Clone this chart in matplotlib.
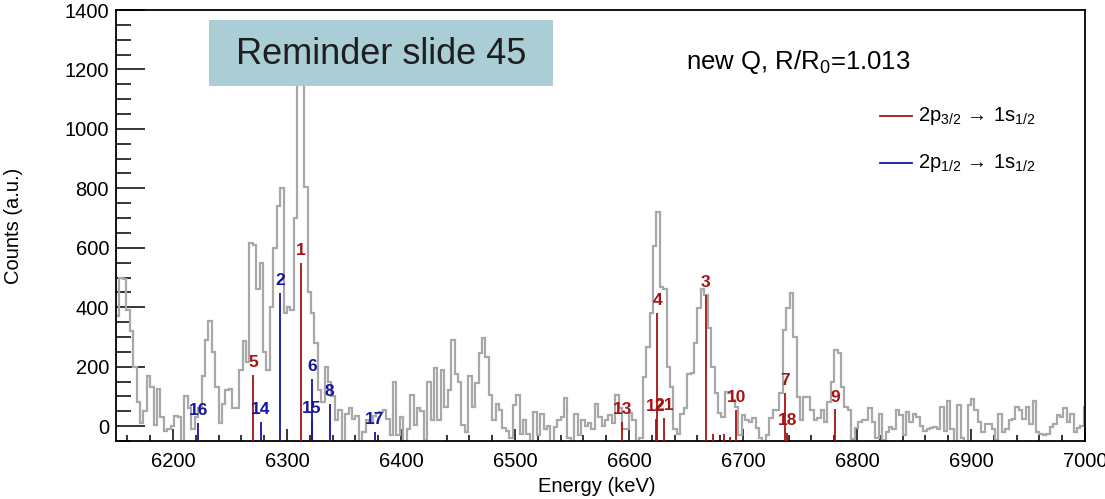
import numpy as np
import matplotlib
matplotlib.use('Agg')
import matplotlib.pyplot as plt
from matplotlib.patches import Rectangle
from matplotlib.lines import Line2D
from matplotlib.ticker import MultipleLocator

# ---------------- data ----------------
bin_start = 6150.0   # keV
bin_width = 3.0      # keV

counts_6150_6258 = [370, 500, 495, 390, 320, 200, 80, 10, 50, 170, 130, 5, 125, 30, -15, -10,
                    0, 35, 30, -60, 100, 60, -10, 30, 60, 170, 290, 355, 250, 130, 10, 75,
                    120, 125, 60, 60]
counts_6258_6351 = [190, 285, 215, 615, 608, 460, 550, 250, 190, 400, 600, 740, 800, 380, 400,
                    390, 700, 1200, 1180, 806, 450, 380, 280, 120, 80, 200, 150, 100, 20, 54, -60]
counts_6351_6576 = [40, 60, 25, 35, -60, -20, 20, 10, 35, 45, 48, 54, 25, -30, 150, -30, 30, -60,
                    -10, 105, 5, 60, 50, -45, 150, 20, 194, 20, 189, 65, 120, 290, 177, 150, 4,
                    -19, 170, 65, 144, 245, 295, 234, 105, 20, 76, 54, -5, -15, -40, 70, 105,
                    -25, 20, -25, -60, 48, -30, 42, -10, 0, -60, -2, 20, 32, 93, -40, -60, 42,
                    -30, 20, 0, 10, -10, 76, 30]
counts_6576_6786 = [0, 20, 37, 10, 104, 60, -10, -10, 45, 20, -60, -40, 166, 267, 380, 605, 721,
                    469, 460, 200, 130, -10, -25, 40, 60, 177, 180, 280, 396, 460, 441, 330, 200,
                    110, 43, 30, 115, 110, 87, 65, -30, 37, 20, 15, 26, -5, -40, -60, -30, 26, 54,
                    54, 110, 323, 396, 447, 301, 99, 20, 99, 99, 54, 20, 26, 54, 15, 82, 150, 256,
                    245]
counts_6786_7002 = [130, 65, 54, -43, -5, 14, 20, 20, 60, 14, -40, 42, -45, -20, -3, -10, 54, 37,
                    -30, 48, 14, 42, 30, 2, -15, -10, -5, -3, -8, 65, -15, 83, -10, -60, 71, -40,
                    -60, 71, 90, 54, 14, -20, 8, 8, -10, -45, 42, -20, -10, 20, 25, 65, 54, 25, 65,
                    8, 83, -20, -26, -30, -26, -3, 8, 37, 32, 62, 14, 42, -20, -5, 2, 65]

# 2p3/2 -> 1s1/2 transitions (red)
red_energy = [6312, 6667.5, 6624.8, 6270, 6737, 6780.7, 6694, 6623.5, 6594, 6739, 6630.7]
red_height = [550, 441, 381, 172, 113, 56, 54, 24, 15, -22, 27]
red_label = ['1', '3', '4', '5', '7', '9', '10', '12', '13', '18', '21']
red_minor_energy = [6674, 6683, 6689]
red_minor_height = [-27, -25, -35]

# 2p1/2 -> 1s1/2 transitions (blue)
blue_energy = [6294, 6322, 6337.4, 6277.2, 6321.5, 6222, 6377.2]
blue_height = [447, 160, 74, 15, 17, 9, -19]
blue_label = ['2', '6', '8', '14', '15', '16', '17']

x_range = (6150, 7000)
y_range = (-50, 1400)

# ---------------- style ----------------
plt.rcParams['font.family'] = ['Liberation Sans', 'DejaVu Sans']
plt.rcParams['mathtext.fontset'] = 'custom'
plt.rcParams['mathtext.rm'] = 'Liberation Sans'
plt.rcParams['mathtext.it'] = 'Liberation Sans:italic'
plt.rcParams['mathtext.bf'] = 'Liberation Sans:bold'

RED = '#a81212'
BLUE = '#1515a0'
GRAY = '#a8a8a8'

W, H = 1105, 499
fig = plt.figure(figsize=(W / 100, H / 100), dpi=100)
ax = fig.add_axes([116 / W, 58 / H, 969 / W, 431 / H])

counts = np.array(counts_6150_6258 + counts_6258_6351 + counts_6351_6576 +
                  counts_6576_6786 + counts_6786_7002, dtype=float)
edges = bin_start + bin_width * np.arange(len(counts) + 1)
ax.stairs(counts, edges, baseline=None, color=GRAY, lw=1.6, zorder=2)

ymin_line = y_range[0] - 10
ax.vlines(red_minor_energy, ymin_line, red_minor_height, colors=RED, lw=1.3, zorder=3)
ax.vlines(red_energy, ymin_line, red_height, colors=RED, lw=1.3, zorder=3)
ax.vlines(blue_energy, ymin_line, blue_height, colors=BLUE, lw=1.3, zorder=3)
for e, h, lab in zip(red_energy, red_height, red_label):
    ax.text(e, h + 42, lab, color=RED, ha='center', va='center', fontsize=12.5,
            fontweight='bold', zorder=4)
for e, h, lab in zip(blue_energy, blue_height, blue_label):
    ax.text(e, h + 42, lab, color=BLUE, ha='center', va='center', fontsize=12.5,
            fontweight='bold', zorder=4)

ax.set_xlim(*x_range)
ax.set_ylim(*y_range)
ax.xaxis.set_major_locator(MultipleLocator(100))
ax.xaxis.set_minor_locator(MultipleLocator(20))
ax.yaxis.set_major_locator(MultipleLocator(200))
ax.yaxis.set_minor_locator(MultipleLocator(50))
ax.tick_params(axis='y', which='major', direction='in', length=21, width=1.1,
               labelsize=14.5, pad=5, color='black')
ax.tick_params(axis='y', which='minor', direction='in', length=11, width=1.1, color='black')
ax.tick_params(axis='x', which='major', direction='in', length=9, width=1.1,
               labelsize=14.5, pad=8, color='black')
ax.tick_params(axis='x', which='minor', direction='in', length=4.5, width=1.1, color='black')
for s in ax.spines.values():
    s.set_linewidth(1.3)
    s.set_color('black')

fig.text(597 / W, 1 - 487 / H, 'Energy (keV)', ha='center', va='center', fontsize=14.5)
fig.text(14 / W, 1 - 226 / H, 'Counts (a.u.)', ha='center', va='center', fontsize=14.5,
         rotation=90)

# overlay box
fig.add_artist(Rectangle((209 / W, 1 - 86 / H), (553 - 209) / W, (86 - 20) / H,
                         transform=fig.transFigure, facecolor='#aacdd6', edgecolor='none',
                         zorder=5))
fig.text(381 / W, 1 - 54 / H, 'Reminder slide 45', ha='center', va='center',
         fontsize=26, color='#1e1e1e', zorder=6)

fig.text(686 / W, 1 - 62 / H, r'new Q, R/R$_{\mathregular{0}}$=1.013', ha='left',
         va='center', fontsize=18.5, zorder=6)

# legend
for yy, col, sub in [(116, RED, '3/2'), (163, BLUE, '1/2')]:
    fig.add_artist(Line2D([880 / W, 912 / W], [1 - yy / H, 1 - yy / H],
                          transform=fig.transFigure, color=col, lw=1.3))
    fig.text(918 / W, 1 - yy / H,
             r'2p$_{\mathregular{' + sub + r'}}\,\rightarrow\,$1s$_{\mathregular{1/2}}$',
             ha='left', va='center', fontsize=14.5)

fig.savefig('out.png', dpi=100)
